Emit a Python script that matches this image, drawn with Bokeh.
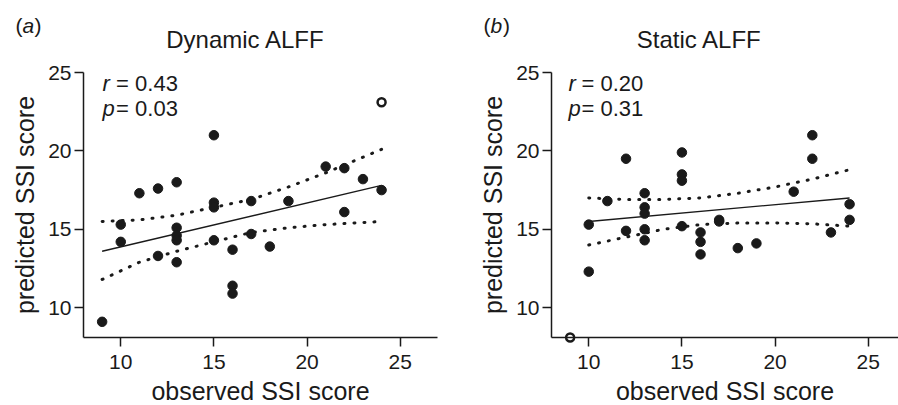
from bokeh.plotting import figure
from bokeh.layouts import row
from bokeh.models import Label, Range1d
from bokeh.embed import file_html
from bokeh.resources import INLINE

FONT = "Liberation Sans"
INK = "#1a1a1a"

# ---------- Panel (a) Dynamic ALFF ----------
a_obs = [9, 10, 10, 11, 12, 12, 13, 13, 13, 13, 13, 15, 15, 15, 15, 16, 16, 16,
         17, 17, 18, 19, 21, 22, 22, 23, 24]
a_pred = [9.1, 15.3, 14.2, 17.3, 17.6, 13.3, 18.0, 15.1, 14.6, 14.3, 12.9, 21.0,
          16.7, 16.4, 14.3, 13.7, 11.4, 10.9, 16.8, 14.7, 13.9, 16.8, 19.0, 18.9,
          16.1, 18.2, 17.5]
a_out_obs = [24]
a_out_pred = [23.1]
a_fit_x = [9, 24]
a_fit_y = [13.6, 17.8]
a_band_x = [9, 11, 13, 15, 17, 19, 21, 24]
a_upper = [15.5, 15.6, 15.9, 16.4, 16.9, 17.7, 18.6, 20.1]
a_lower = [11.8, 12.9, 13.6, 14.2, 14.8, 15.1, 15.3, 15.5]

# ---------- Panel (b) Static ALFF ----------
b_obs = [10, 10, 11, 12, 12, 13, 13, 13, 13, 13, 15, 15, 15, 15, 16, 16, 16,
         17, 17, 18, 19, 21, 22, 22, 23, 24, 24]
b_pred = [15.3, 12.3, 16.8, 19.5, 14.9, 17.3, 16.4, 16.0, 15.0, 14.3, 19.9, 18.5,
          18.1, 15.2, 14.8, 14.2, 13.4, 15.6, 15.5, 13.8, 14.1, 17.4, 21.0, 19.5,
          14.8, 16.6, 15.6]
b_out_obs = [9]
b_out_pred = [8.1]
b_fit_x = [10, 24]
b_fit_y = [15.5, 17.0]
b_band_x = [10, 12, 14, 16, 18, 20, 22, 24]
b_upper = [17.0, 16.9, 16.9, 17.0, 17.3, 17.7, 18.2, 18.8]
b_lower = [14.0, 14.5, 15.0, 15.3, 15.4, 15.4, 15.35, 15.2]

ticks = [10, 15, 20, 25]
X_LO, Y_LO, Y_HI = 8, 8.1, 25

W, H = 449, 405
SX, SY = 18.63, 15.68   # px per data unit


def lab(p, x, y, text, size="22px", style="normal", align="left"):
    p.add_layout(Label(x=x, y=y, text=text, text_font=FONT, text_font_size=size,
                       text_font_style=style, text_color=INK, text_align=align,
                       text_baseline="middle"))


def panel(obs, pred, oo, op, fx, fy, bx, bu, bl, axis_left_px, x_hi,
          letter, title, title_x, rtxt, ptxt, rx, eqx, letter_xs):
    x0 = X_LO - axis_left_px / SX
    y1 = Y_HI + 72 / SY
    p = figure(width=W, height=H, output_backend="svg", toolbar_location=None,
               x_range=Range1d(x0, x0 + W / SX), y_range=Range1d(y1 - H / SY, y1),
               min_border=0)
    p.outline_line_color = None
    p.xgrid.visible = False
    p.ygrid.visible = False
    p.xaxis.fixed_location = Y_LO
    p.yaxis.fixed_location = X_LO
    p.xaxis.bounds = (X_LO, x_hi)
    p.yaxis.bounds = (Y_LO, Y_HI)
    for ax in (p.xaxis[0], p.yaxis[0]):
        ax.ticker = ticks
        ax.minor_tick_line_color = None
        ax.major_tick_in = 0
        ax.major_tick_out = 9
        ax.axis_line_width = 1.5
        ax.major_tick_line_width = 1.5
        ax.axis_line_color = INK
        ax.major_tick_line_color = INK
        ax.major_label_text_font = FONT
        ax.major_label_text_font_size = "21px"
        ax.major_label_text_color = INK
        ax.axis_label_text_font = FONT
        ax.axis_label_text_font_size = "25px"
        ax.axis_label_text_font_style = "normal"
        ax.axis_label_text_color = INK
    p.xaxis.axis_label = "observed SSI score"
    p.yaxis.axis_label = "predicted SSI score"
    p.xaxis.major_label_standoff = 9
    p.xaxis.axis_label_standoff = 4
    p.yaxis.major_label_standoff = 3
    p.yaxis.axis_label_standoff = 6

    p.line(bx, bu, line_color=INK, line_width=3, line_dash="1 9", line_cap="round")
    p.line(bx, bl, line_color=INK, line_width=3, line_dash="1 9", line_cap="round")
    p.line(fx, fy, line_color=INK, line_width=1.4)
    p.scatter(obs, pred, size=9.5, fill_color=INK, line_color=INK)
    p.scatter(oo, op, size=8, fill_color="white", line_color=INK, line_width=2.5)

    lab(p, letter_xs[0], 28.0, "(", size="21px")
    lab(p, letter_xs[1], 28.0, letter, size="21px", style="italic")
    lab(p, letter_xs[2], 28.0, ")", size="21px")
    lab(p, title_x, 27.1, title, size="24px", align="center")
    lab(p, rx, 24.3, "r", style="italic")
    lab(p, eqx, 24.3, rtxt)
    lab(p, rx, 22.7, "p", style="italic")
    lab(p, eqx, 22.7, ptxt)
    return p


fa = panel(a_obs, a_pred, a_out_obs, a_out_pred, a_fit_x, a_fit_y, a_band_x,
           a_upper, a_lower, 83, 27, "a", "Dynamic ALFF", 16.7,
           "= 0.43", "= 0.03", 9.02, 9.75, [4.35, 4.73, 5.37])
fb = panel(b_obs, b_pred, b_out_obs, b_out_pred, b_fit_x, b_fit_y, b_band_x,
           b_upper, b_lower, 102, 27, "b", "Static ALFF", 15.94,
           "= 0.20", "= 0.31", 8.91, 9.61, [4.35, 4.73, 5.40])

layout = row(fa, fb)
open("out.html", "w").write(file_html(layout, INLINE))
